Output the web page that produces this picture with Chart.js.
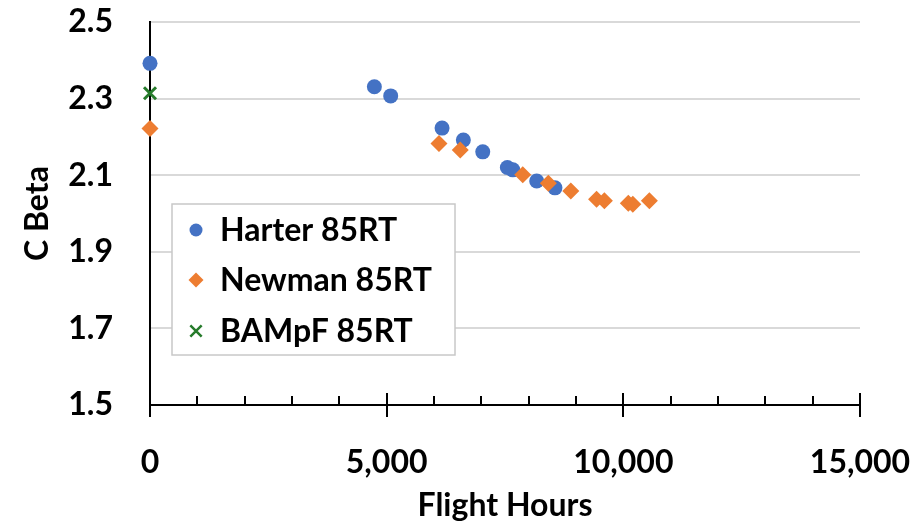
<!DOCTYPE html>
<html>
<head>
<meta charset="utf-8">
<title>C Beta vs Flight Hours</title>
<script src="https://cdn.jsdelivr.net/npm/chart.js@4/dist/chart.umd.min.js"></script>
<style>
  html, body { margin: 0; padding: 0; background: #fff; }
  #wrap { width: 918px; height: 525px; }
</style>
</head>
<body>
<div id="wrap"><canvas id="chart" width="918" height="525"></canvas></div>
<script>
// ── Data ───────────────────────────────────────────────────
const harterHours = [0, 4740, 5085, 6170, 6620, 7030, 7550, 7665, 8170, 8555];
const harterBeta  = [2.392, 2.331, 2.307, 2.223, 2.192, 2.161, 2.120, 2.114, 2.085, 2.067];

const newmanHours = [0, 6105, 6555, 7875, 8415, 8890, 9435, 9600, 10105, 10200, 10550];
const newmanBeta  = [2.222, 2.183, 2.166, 2.101, 2.079, 2.059, 2.037, 2.033, 2.027, 2.024, 2.033];

const bampfHours = [0];
const bampfBeta  = [2.314];

const seriesNames = ["Harter 85RT", "Newman 85RT", "BAMpF 85RT"];
const yTicks = [1.5, 1.7, 1.9, 2.1, 2.3, 2.5];
const xTicks = [0, 5000, 10000, 15000];

const FONT = "Lato";
const SIZE = 32;
const BLUE   = "#4472C4";
const ORANGE = "#ED7D31";
const GREEN  = "#267B2B";

const toPoints = (xs, ys) => xs.map((x, i) => ({ x, y: ys[i] }));

// ── Axis tick marks (minor inside, major crossing) ──────────
const axisTicks = {
  id: "axisTicks",
  beforeDatasetsDraw(chart) {
    const { ctx, chartArea, scales: { x } } = chart;
    const base = chartArea.bottom;
    ctx.save();
    ctx.strokeStyle = "#000";
    ctx.lineWidth = 2;
    for (let v = x.min; v <= x.max; v += 1000) {
      const px = Math.round(x.getPixelForValue(v));
      const major = v % 5000 === 0;
      ctx.beginPath();
      ctx.moveTo(px, major ? base - 12 : base - 9);
      ctx.lineTo(px, major ? base + 12 : base);
      ctx.stroke();
    }
    ctx.restore();
  }
};

// ── Legend box inside the plot ─────────────────────────────
const boxLegend = {
  id: "boxLegend",
  afterDatasetsDraw(chart) {
    const { ctx } = chart;
    const bx = 172, by = 204, bw = 283, bh = 151;
    ctx.save();
    ctx.fillStyle = "#fff";
    ctx.fillRect(bx, by, bw, bh);
    ctx.strokeStyle = "#c8c8c8";
    ctx.lineWidth = 1.5;
    ctx.strokeRect(bx, by, bw, bh);

    const rows = [230, 280, 331];
    const markers = [
      { pointStyle: "circle",   radius: 6.5, borderWidth: 0 },
      { pointStyle: "rectRot",  radius: 7.5, borderWidth: 0 },
      { pointStyle: "crossRot", radius: 8,   borderWidth: 2.5 },
    ];
    chart.data.datasets.forEach((ds, i) => {
      ctx.fillStyle = ds.backgroundColor;
      ctx.strokeStyle = ds.borderColor;
      ctx.lineWidth = markers[i].borderWidth;
      Chart.helpers.drawPoint(ctx, { ...markers[i], rotation: 0 }, 196, rows[i]);
      ctx.fillStyle = "#000";
      ctx.font = `bold ${SIZE}px ${FONT}`;
      ctx.textBaseline = "middle";
      ctx.textAlign = "left";
      ctx.fillText(seriesNames[i], 220, rows[i] + 1);
    });
    ctx.restore();
  }
};

const ctx = document.getElementById("chart").getContext("2d");

new Chart(ctx, {
  type: "scatter",
  data: {
    datasets: [
      {
        label: seriesNames[0],
        data: toPoints(harterHours, harterBeta),
        pointStyle: "circle",
        pointRadius: 7.5,
        backgroundColor: BLUE,
        borderColor: BLUE,
        borderWidth: 0,
        order: 3,
        clip: false,
      },
      {
        label: seriesNames[1],
        data: toPoints(newmanHours, newmanBeta),
        pointStyle: "rectRot",
        pointRadius: 8.5,
        backgroundColor: ORANGE,
        borderColor: ORANGE,
        borderWidth: 0,
        order: 2,
        clip: false,
      },
      {
        label: seriesNames[2],
        data: toPoints(bampfHours, bampfBeta),
        pointStyle: "crossRot",
        pointRadius: 8.5,
        backgroundColor: GREEN,
        borderColor: GREEN,
        borderWidth: 3,
        order: 1,
        clip: false,
      },
    ],
  },
  options: {
    responsive: false,
    devicePixelRatio: 1,
    animation: false,
    layout: { padding: { top: 22, right: 58, left: 0, bottom: 0 } },
    plugins: {
      legend: { display: false },
      tooltip: { enabled: false },
    },
    scales: {
      x: {
        type: "linear",
        min: xTicks[0],
        max: xTicks[xTicks.length - 1],
        afterFit: (s) => { s.height = 120; s.paddingLeft = 0; s.paddingRight = 0; },
        afterBuildTicks: (s) => { s.ticks = xTicks.map(v => ({ value: v })); },
        ticks: {
          padding: 30,
          color: "#000",
          font: { family: FONT, size: SIZE, weight: "bold" },
          callback: (v) => Number(v).toLocaleString("en-US"),
        },
        grid: { display: false },
        border: { display: true, color: "#000", width: 2 },
        title: {
          display: true,
          text: "Flight Hours",
          color: "#000",
          font: { family: FONT, size: SIZE, weight: "bold" },
          padding: { top: 0, bottom: 0 },
        },
      },
      y: {
        type: "linear",
        min: yTicks[0],
        max: yTicks[yTicks.length - 1],
        afterFit: (s) => { s.width = 150; s.paddingTop = 0; s.paddingBottom = 0; },
        afterBuildTicks: (s) => { s.ticks = yTicks.map(v => ({ value: v })); },
        ticks: {
          padding: 37,
          color: "#000",
          font: { family: FONT, size: SIZE, weight: "bold" },
          callback: (v) => Number(v).toFixed(1),
        },
        grid: {
          drawTicks: false,
          lineWidth: 2,
          color: (c) => (c.tick && c.tick.value === yTicks[0]) ? "rgba(0,0,0,0)" : "#d9d9d9",
        },
        border: { display: true, color: "#000", width: 2 },
        title: {
          display: true,
          text: "C Beta",
          color: "#000",
          font: { family: FONT, size: SIZE, weight: "bold" },
          padding: { top: 18, bottom: 0 },
        },
      },
    },
  },
  plugins: [axisTicks, boxLegend],
});
</script>
</body>
</html>
